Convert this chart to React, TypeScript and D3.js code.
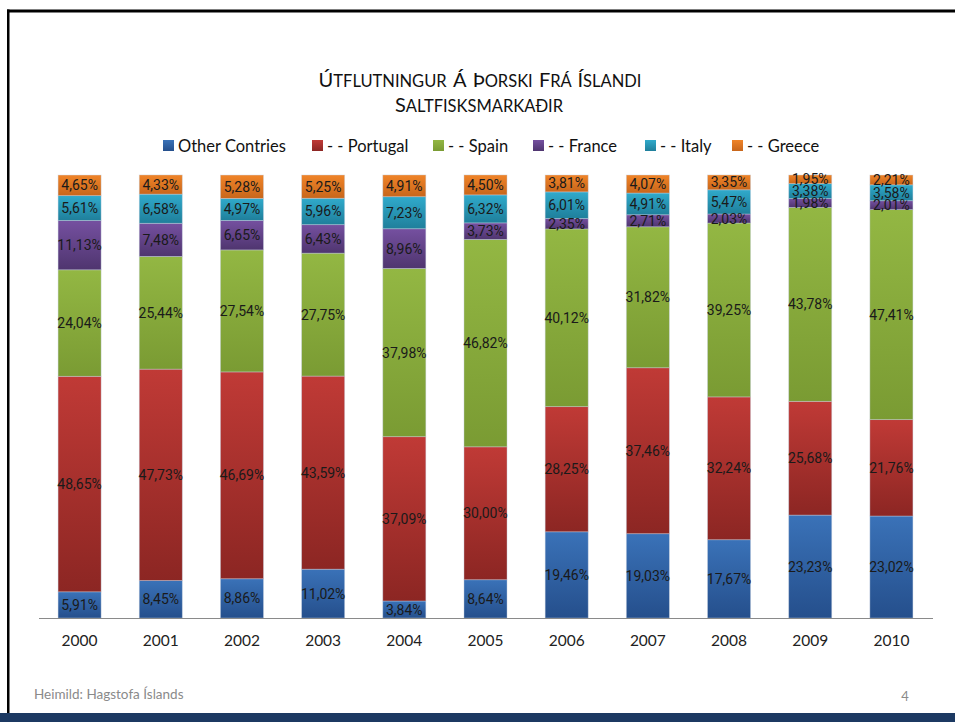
import React from "react";
import * as d3 from "d3";

const years = ["2000","2001","2002","2003","2004","2005","2006","2007","2008","2009","2010"];
const seriesNames = ["Other Contries","- - Portugal","- - Spain","- - France","- - Italy","- - Greece"];
const other = [5.91, 8.45, 8.86, 11.02, 3.84, 8.64, 19.46, 19.03, 17.67, 23.23, 23.02];
const portugal = [48.65, 47.73, 46.69, 43.59, 37.09, 30.00, 28.25, 37.46, 32.24, 25.68, 21.76];
const spain = [24.04, 25.44, 27.54, 27.75, 37.98, 46.82, 40.12, 31.82, 39.25, 43.78, 47.41];
const france = [11.13, 7.48, 6.65, 6.43, 8.96, 3.73, 2.35, 2.71, 2.03, 1.98, 2.01];
const italy = [5.61, 6.58, 4.97, 5.96, 7.23, 6.32, 6.01, 4.91, 5.47, 3.38, 3.58];
const greece = [4.65, 4.33, 5.28, 5.25, 4.91, 4.50, 3.81, 4.07, 3.35, 1.95, 2.21];

const seriesValues = [other, portugal, spain, france, italy, greece];
const colorsTop = ["#3a72b8", "#c03a36", "#93b743", "#7550a0", "#30aacb", "#f08428"];
const colorsBot = ["#254f8c", "#8c2623", "#7a9b33", "#4f356f", "#1f7f9b", "#c8661b"];

export default function App() {
  const W = 955, H = 722;
  const x = d3.scaleBand<string>().domain(years).range([39, 932]).paddingInner(0.47).paddingOuter(0.235);
  const y = d3.scaleLinear().domain([0, 100]).range([618, 175]);

  const rows = years.map((yr, i) => {
    const o: any = { year: yr };
    seriesNames.forEach((s, k) => (o[s] = seriesValues[k][i]));
    return o;
  });
  const stacked = d3.stack<any>().keys(seriesNames)(rows);
  const fmt = (v: number) => v.toFixed(2).replace(".", ",") + "%";

  const legendX = [163, 312, 433, 533, 645, 732];
  const font = "Lato, 'Open Sans', sans-serif";
  const big = 20;
  const small = 16.5;

  return (
    <svg width={W} height={H} style={{ position: "absolute", left: 0, top: 0, display: "block" }}>
      <defs>
        {seriesNames.map((s, k) => (
          <linearGradient key={k} id={"g" + k} x1="0" y1="0" x2="0" y2="1">
            <stop offset="0%" stopColor={colorsTop[k]} />
            <stop offset="100%" stopColor={colorsBot[k]} />
          </linearGradient>
        ))}
      </defs>
      <rect x={0} y={0} width={W} height={H} fill="#fff" />
      {/* frame */}
      <rect x={7} y={9.5} width={W} height={3} fill="#000" />
      <rect x={7} y={9.5} width={2.5} height={704} fill="#000" />
      <rect x={0} y={713} width={W} height={9} fill="#1c3962" />

      {/* title */}
      <text x={480} y={87} textAnchor="middle" fontFamily={font} fontSize={small} fill="#111" wordSpacing={2}>
        <tspan fontSize={big}>Ú</tspan>TFLUTNINGUR <tspan fontSize={big}>Á</tspan> <tspan fontSize={big}>Þ</tspan>ORSKI <tspan fontSize={big}>F</tspan>RÁ <tspan fontSize={big}>Í</tspan>SLANDI
      </text>
      <text x={479} y={112} textAnchor="middle" fontFamily={font} fontSize={small} fill="#111">
        <tspan fontSize={big}>S</tspan>ALTFISKSMARKAÐIR
      </text>

      {/* legend */}
      {seriesNames.map((s, k) => (
        <g key={k}>
          <rect x={legendX[k]} y={140} width={11} height={11} fill={`url(#g${k})`} />
          <text x={legendX[k] + 15} y={151.5} fontFamily={font} fontSize={16.5} fill="#111">{s}</text>
        </g>
      ))}

      {/* bars */}
      {stacked.map((layer, k) => (
        <g key={k}>
          {layer.map((d, i) => {
            const x0 = x(years[i])!;
            const yTop = y(d[1]);
            const yBot = y(d[0]);
            return (
              <rect key={i} x={x0} y={yTop} width={x.bandwidth()} height={yBot - yTop}
                fill={`url(#g${k})`} stroke="rgba(200,210,225,0.5)" strokeWidth={0.8} />
            );
          })}
        </g>
      ))}
      {stacked.map((layer, k) => (
        <g key={"l" + k}>
          {layer.map((d, i) => {
            const cx = x(years[i])! + x.bandwidth() / 2;
            const cy = (y(d[0]) + y(d[1])) / 2;
            return (
              <text key={i} x={cx} y={cy} dy="0.36em" textAnchor="middle" fontFamily="Roboto, sans-serif"
                fontSize={14} fill="#1a1a1a">{fmt(seriesValues[k][i])}</text>
            );
          })}
        </g>
      ))}

      {/* axis */}
      <line x1={39} x2={933} y1={618.5} y2={618.5} stroke="#8a8a8a" strokeWidth={1} />
      {years.map((yr) => (
        <text key={yr} x={x(yr)! + x.bandwidth() / 2} y={646} textAnchor="middle" fontFamily={font}
          fontSize={15.5} fill="#222">{yr}</text>
      ))}

      {/* footer */}
      <text x={34} y={699} fontFamily={font} fontSize={13.5} fill="#8a8a8a">Heimild: Hagstofa Íslands</text>
      <text x={905} y={701} textAnchor="middle" fontFamily={font} fontSize={13} fill="#8a8a8a">4</text>
    </svg>
  );
}
